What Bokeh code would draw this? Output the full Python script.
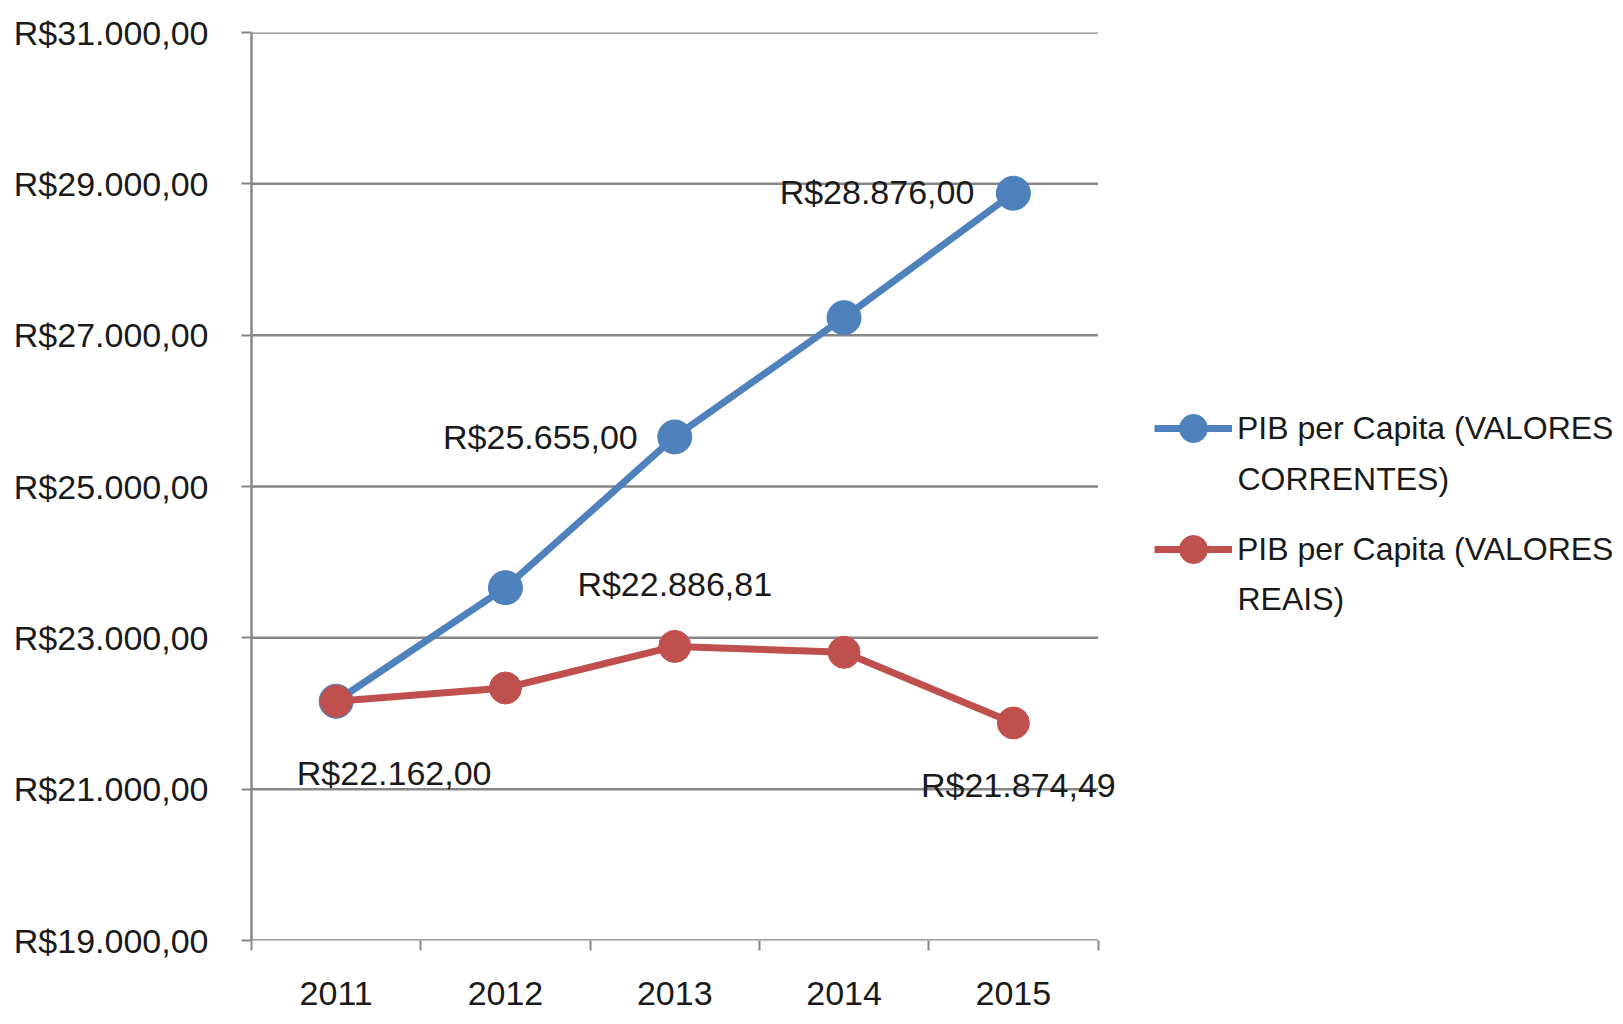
from bokeh.plotting import figure
from bokeh.models import FixedTicker, Legend, LegendItem, Range1d, Label
from bokeh.embed import file_html
from bokeh.resources import INLINE

# ---- data ----
years = [2011, 2012, 2013, 2014, 2015]
correntes = [22162.00, 23663.00, 25655.00, 27231.00, 28876.00]
reais = [22162.00, 22337.00, 22886.81, 22809.00, 21874.49]
y_ticks = [19000, 21000, 23000, 25000, 27000, 29000, 31000]
name_correntes = ["PIB per Capita (VALORES", "CORRENTES)"]
name_reais = ["PIB per Capita (VALORES", "REAIS)"]

# which points carry a data label (index)
labelled_correntes = [2, 4]
labelled_reais = [0, 2, 4]


def brl(v):
    s = f"{v:,.2f}"
    s = s.replace(",", "X").replace(".", ",").replace("X", ".")
    return "R$" + s


FONT = "Liberation Sans"
TXT = "#1a1a1a"
GRID = "#878787"
BLUE = "#4F81BD"
RED = "#C0504D"

# layout (pixels)
W, H = 1615, 1016
LEFT, TOP, BOTTOM = 251, 32, 76
PX_PER_CAT = 169.3
frame_w = W - LEFT
frame_h = H - TOP - BOTTOM
x_start = years[0] - 0.5
x_end = x_start + frame_w / PX_PER_CAT
cat_end = years[-1] + 0.5
px_per_unit_y = frame_h / (y_ticks[-1] - y_ticks[0])


def px_to_data(px, py):
    """page-pixel position -> data coordinates"""
    return (x_start + (px - LEFT) / PX_PER_CAT,
            y_ticks[0] + (TOP + frame_h - py) / px_per_unit_y)


p = figure(width=W, height=H, output_backend="svg", toolbar_location=None,
           x_range=Range1d(x_start, x_end),
           y_range=Range1d(y_ticks[0], y_ticks[-1]),
           min_border_left=LEFT, min_border_right=0,
           min_border_top=TOP, min_border_bottom=BOTTOM)
p.outline_line_color = None
p.background_fill_color = "white"
p.border_fill_color = "white"

# axes
p.xaxis.ticker = FixedTicker(ticks=years,
                             minor_ticks=[x_start + i for i in range(len(years) + 1)])
p.xaxis.major_label_overrides = {y: str(y) for y in years}
p.xaxis.major_tick_line_color = None
p.xaxis.minor_tick_in = 0
p.xaxis.minor_tick_out = 10
p.xaxis.minor_tick_line_color = GRID
p.xaxis.minor_tick_line_width = 2
p.xaxis.axis_line_color = None
p.xaxis.major_label_text_font = FONT
p.xaxis.major_label_text_font_size = "34px"
p.xaxis.major_label_text_color = TXT
p.xaxis.major_label_standoff = 31

p.yaxis.ticker = FixedTicker(ticks=y_ticks, minor_ticks=[])
p.yaxis.major_label_overrides = {t: brl(t) for t in y_ticks}
p.yaxis.major_tick_in = 0
p.yaxis.major_tick_out = 10
p.yaxis.major_tick_line_color = GRID
p.yaxis.major_tick_line_width = 2
p.yaxis.minor_tick_line_color = None
p.yaxis.axis_line_color = GRID
p.yaxis.axis_line_width = 2.5
p.yaxis.major_label_text_font = FONT
p.yaxis.major_label_text_font_size = "34px"
p.yaxis.major_label_text_color = TXT
p.yaxis.major_label_standoff = 33

p.xgrid.visible = False
p.ygrid.visible = False
# horizontal gridlines, limited to the category area
p.segment(x0=[x_start] * len(y_ticks), y0=y_ticks,
          x1=[cat_end] * len(y_ticks), y1=y_ticks,
          line_color=GRID, line_width=2.5)

# series
bl = p.line(years, correntes, line_color=BLUE, line_width=7)
bp = p.scatter(years, correntes, size=34, fill_color=BLUE, line_color=BLUE)
rl = p.line(years, reais, line_color=RED, line_width=7)
rp = p.scatter(years, reais, size=32, fill_color=RED, line_color=RED)

# data labels (offsets in screen px, y positive = up)
lab_style = dict(text_font=FONT, text_font_size="34px", text_color=TXT,
                 text_baseline="middle")
corr_offsets = {2: (-37, 0, "right"), 4: (-39, 1, "right")}
reais_offsets = {0: (58, -72, "center"), 2: (0, 62, "center"), 4: (5, -62, "center")}
for i in labelled_correntes:
    dx, dy, al = corr_offsets[i]
    p.add_layout(Label(x=years[i], y=correntes[i], text=brl(correntes[i]),
                       x_offset=dx, y_offset=dy, text_align=al, **lab_style))
for i in labelled_reais:
    dx, dy, al = reais_offsets[i]
    p.add_layout(Label(x=years[i], y=reais[i], text=brl(reais[i]),
                       x_offset=dx, y_offset=dy, text_align=al, **lab_style))

# legend: first line of each entry via Legend, continuation lines via Label
legend = Legend(items=[LegendItem(label=name_correntes[0], renderers=[bl, bp]),
                       LegendItem(label=name_reais[0], renderers=[rl, rp])],
                location=(903, 356), padding=0, margin=0,
                border_line_alpha=0, background_fill_alpha=0,
                glyph_width=78, glyph_height=70, label_standoff=5,
                label_text_font=FONT, label_text_font_size="32px",
                label_text_color=TXT, spacing=51)
p.add_layout(legend, "center")

leg_text_x = 1237
for txt, py in [(name_correntes[1], 478), (name_reais[1], 598)]:
    lx, ly = px_to_data(leg_text_x, py)
    p.add_layout(Label(x=lx, y=ly, text=txt, text_font=FONT, text_font_size="32px",
                       text_color=TXT, text_baseline="middle", text_align="left"))

open("out.html", "w").write(file_html(p, INLINE))
